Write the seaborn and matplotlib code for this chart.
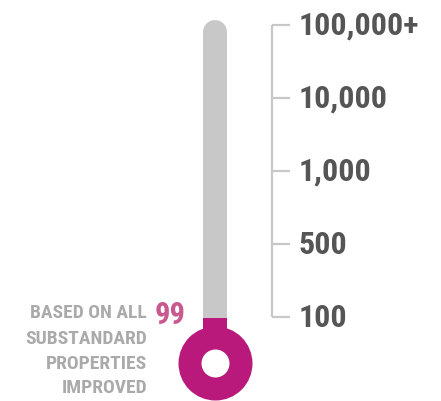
import numpy as np
import matplotlib.pyplot as plt
import seaborn as sns

# scale of the thermometer (bottom to top) and the reading
scale_labels = ['100', '500', '1,000', '10,000', '100,000+']
scale_values = [100, 500, 1000, 10000, 100000]
value = 99
value_label = '99'
caption_lines = ['BASED ON ALL', 'SUBSTANDARD', 'PROPERTIES', 'IMPROVED']

sns.set_theme(style='white')
plt.rcParams['font.family'] = ['Roboto Condensed', 'DejaVu Sans']
plt.rcParams['font.stretch'] = 'condensed'

W, H = 441, 401
step = 73.0   # pixels between scale ticks
y0 = 317.0    # pixel row of the first tick


def u(py):
    # pixel row -> scale units
    return (y0 - py) / step


tube_c = '#c8c8c8'
fill_c = '#b8197a'
num_c = '#c9588f'
lab_c = '#555555'
cap_c = '#aaaaaa'

fig = plt.figure(figsize=(W / 100, H / 100), dpi=100)
ax = fig.add_axes([0, 0, 1, 1])
ax.set_xlim(0, W)
ax.set_ylim(u(H), u(0))
ax.axis('off')

pos = np.arange(len(scale_labels))
fill_pos = np.interp(value, [0] + scale_values, np.r_[-1.0, pos])

cx = 215
lw = 24 * 0.72
bulb_y = u(363)

# tube and fill
ax.plot([cx, cx], [bulb_y, u(32)], color=tube_c, lw=lw, solid_capstyle='round', zorder=1)
ax.plot([cx, cx], [bulb_y, fill_pos], color=fill_c, lw=lw, solid_capstyle='butt', zorder=2)
sns.scatterplot(x=[cx], y=[bulb_y], s=(74 * 0.72) ** 2, color=fill_c, linewidth=0, ax=ax, zorder=3)
sns.scatterplot(x=[cx], y=[bulb_y], s=(28 * 0.72) ** 2, color='white', linewidth=0, ax=ax, zorder=4)

# scale bracket
ax.plot([272, 272], [pos[0], pos[-1]], color=tube_c, lw=1.6, solid_capstyle='butt')
ax.hlines(pos, 272, 290, color=tube_c, lw=1.6)
for p, lab in zip(pos, scale_labels):
    ax.text(299, p - 10 / step, lab, ha='left', va='baseline', fontsize=23,
            fontweight='bold', color=lab_c)

# caption and reading
baselines = [318, 344, 369, 393]
for by, line in zip(baselines, caption_lines):
    ax.text(147, u(by), line, ha='right', va='baseline', fontsize=14,
            fontweight='bold', color=cap_c)
ax.text(155, u(324), value_label, ha='left', va='baseline', fontsize=22,
        fontweight='bold', color=num_c)

fig.savefig('out.png', dpi=100)
